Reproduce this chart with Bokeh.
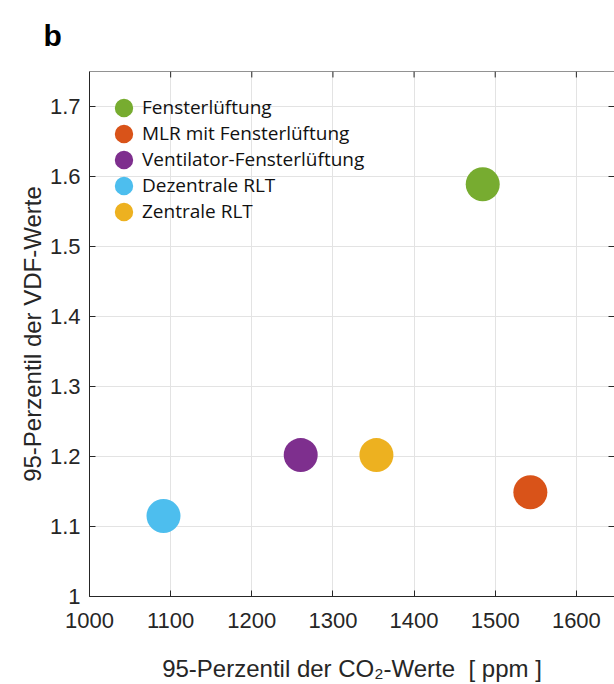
from bokeh.plotting import figure
from bokeh.models import (ColumnDataSource, FixedTicker, Legend, LegendItem,
                          Range1d, Span, Title)
from bokeh.embed import file_html
from bokeh.resources import INLINE

# ---- data ----
categories = ["Fensterlüftung", "MLR mit Fensterlüftung", "Ventilator-Fensterlüftung",
              "Dezentrale RLT", "Zentrale RLT"]
co2_p95 = [1484.6, 1543.3, 1260.3, 1091.2, 1353.6]
vdf_p95 = [1.589, 1.149, 1.202, 1.115, 1.202]
colors = ["#77AC30", "#D95319", "#7E2F8E", "#4DBEEE", "#EDB120"]

xticks = [1000, 1100, 1200, 1300, 1400, 1500, 1600]
yticks = [1.0, 1.1, 1.2, 1.3, 1.4, 1.5, 1.6, 1.7]
ytick_labels = ["1", "1.1", "1.2", "1.3", "1.4", "1.5", "1.6", "1.7"]

X_START, X_END = 1000, 1647
Y_START, Y_END = 1.0, 1.75

TXT = "#262626"
TICK_FONT = "Liberation Sans"

W, H = 614, 684
ML, MT, MB, MR = 89, 68, 88, 0
frame_w = W - ML - MR
frame_h = H - MT - MB
TICK_PX = 6

p = figure(width=W, height=H, output_backend="svg", toolbar_location=None,
           x_range=Range1d(X_START, X_END), y_range=Range1d(Y_START, Y_END),
           min_border_left=ML, min_border_right=MR, min_border_top=MT,
           min_border_bottom=MB)

p.background_fill_color = "white"
p.border_fill_color = "white"
p.outline_line_color = None

# axes
for ax in (p.xaxis[0], p.yaxis[0]):
    ax.major_tick_in = TICK_PX
    ax.major_tick_out = 0
    ax.minor_tick_line_color = None
    ax.axis_line_color = TXT
    ax.major_tick_line_color = TXT
    ax.major_label_text_font = TICK_FONT
    ax.major_label_text_font_size = "22px"
    ax.major_label_text_color = TXT
    ax.axis_label_text_font = TICK_FONT
    ax.axis_label_text_font_size = "24px"
    ax.axis_label_text_font_style = "normal"
    ax.axis_label_text_color = TXT

p.xaxis[0].ticker = FixedTicker(ticks=xticks)
p.yaxis[0].ticker = FixedTicker(ticks=yticks)
p.yaxis[0].major_label_overrides = dict(zip(yticks, ytick_labels))
p.xaxis[0].major_label_standoff = 16
p.yaxis[0].major_label_standoff = 9
p.xaxis[0].axis_label = "95-Perzentil der CO\u2082-Werte\u00a0 [ ppm ]"
p.yaxis[0].axis_label = "95-Perzentil der VDF-Werte"
p.xaxis[0].axis_label_standoff = 24
p.yaxis[0].axis_label_standoff = 1

# grid
p.xgrid.ticker = FixedTicker(ticks=xticks)
p.ygrid.ticker = FixedTicker(ticks=yticks)
p.grid.grid_line_color = "#e3e3e3"
p.grid.grid_line_width = 1

# box: top border line and inward ticks on top / right
p.add_layout(Span(location=Y_END, dimension="width", line_color=TXT, line_width=1))
dy = TICK_PX * (Y_END - Y_START) / frame_h
dx = TICK_PX * (X_END - X_START) / frame_w
p.segment(x0=xticks, y0=[Y_END] * len(xticks), x1=xticks,
          y1=[Y_END - dy] * len(xticks), line_color=TXT, line_width=1)
p.segment(x0=[X_END] * len(yticks), y0=yticks, x1=[X_END - dx] * len(yticks),
          y1=yticks, line_color=TXT, line_width=1)

# points (ellipses in screen units so the legend glyph stays round and large)
items = []
for cat, x, y, c in zip(categories, co2_p95, vdf_p95, colors):
    src = ColumnDataSource(dict(x=[x], y=[y]))
    r = p.ellipse("x", "y", source=src, width=34, height=34,
                  width_units="screen", height_units="screen",
                  fill_color=c, line_color=None)
    items.append(LegendItem(label=cat, renderers=[r]))

legend = Legend(items=items, location="top_left", margin=23, padding=0,
                glyph_width=23, glyph_height=23, label_height=23, spacing=0,
                label_standoff=7,
                label_text_font="Open Sans", label_text_font_size="19px",
                label_text_color="#111111", background_fill_alpha=0,
                border_line_color=None)
p.add_layout(legend)

# panel letter
p.title = Title(text="b", align="left", offset=-46, standoff=36,
                vertical_align="top",
                text_font=TICK_FONT, text_font_size="30px",
                text_font_style="bold", text_color="black")

open("out.html", "w").write(file_html(p, INLINE))
